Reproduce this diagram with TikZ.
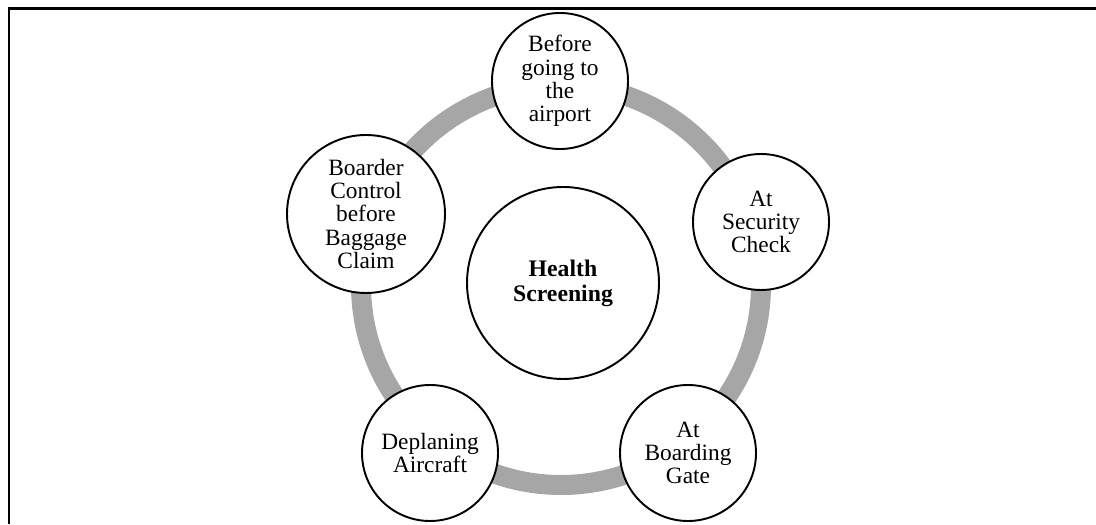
\documentclass[tikz,border=0pt]{standalone}
\usepackage{fontspec}
\setmainfont{Liberation Serif}
\usepackage{tikz}
\usepackage{xcolor}
\usetikzlibrary{positioning}
\definecolor{hsgray}{RGB}{166, 166, 166}
\definecolor{hsblack}{RGB}{0, 0, 0}
\tikzset{
    stagenode/.style={circle, draw=hsblack, line width=1.1pt, fill=white, inner sep=0pt,
        minimum size=2.72cm, align=center, font=\fontsize{13.3}{13.3}\selectfont},
    bignode/.style={stagenode, minimum size=3.16cm},
    hubnode/.style={stagenode, minimum size=3.84cm, font=\fontsize{13.5}{14.2}\selectfont\bfseries},
    ringline/.style={draw=hsgray, line width=0.4cm}
}
\begin{document}
\begin{tikzpicture}
                    \useasboundingbox (0,0) rectangle (21.92,10.48);
                    \draw[line width=1.7pt] (0.18,0) -- (0.18,10.30) -- (21.92,10.30);
                    \coordinate (ctr) at (11.22,4.78);
                    \draw[ringline] (ctr) circle (4cm);
                    \node[hubnode] (hub) at (11.26,4.82) {Health\\Screening};
                    \node[stagenode] (before) at (11.20,8.86) {Before\\going to\\the\\airport};
                    \node[stagenode] (security) at (15.22,6.04) {At\\Security\\Check};
                    \node[stagenode] (gate) at (13.76,1.42) {At\\Boarding\\Gate};
                    \node[stagenode] (deplane) at (8.60,1.42) {Deplaning\\Aircraft};
                    \node[bignode] (border) at (7.32,6.20) {Boarder\\Control\\before\\Baggage\\Claim};
                \end{tikzpicture}
\end{document}
